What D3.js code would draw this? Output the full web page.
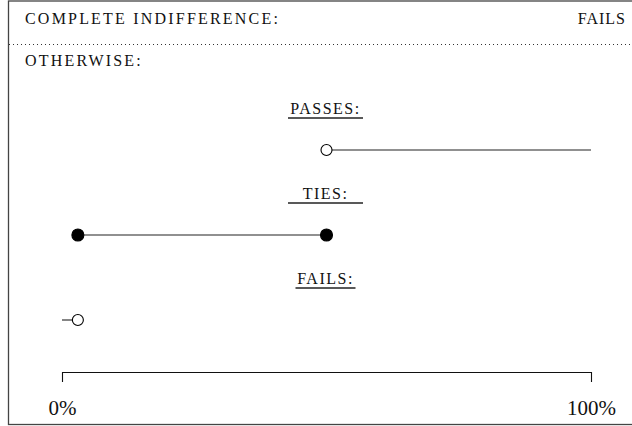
<!DOCTYPE html>
<html>
<head>
<meta charset="utf-8">
<script src="https://cdn.jsdelivr.net/npm/d3@7"></script>
<style>
  body { margin: 0; background: #fff; }
  svg { display: block; }
  text { font-family: "Liberation Serif", "Times New Roman", serif; fill: #111; }
  .sc { font-size: 16px; letter-spacing: 2.2px; }
</style>
</head>
<body>
<svg id="chart"></svg>
<script>
// chart data
const rowNames = ["PASSES:", "TIES:", "FAILS:"];
const rowStart = [0.5, 0.03, 0];
const rowEnd = [1, 0.5, 0.03];
const startMark = ["open", "filled", "none"];
const endMark = ["none", "filled", "open"];
const headerLabel = "COMPLETE INDIFFERENCE:";
const headerResult = "FAILS";
const otherwiseLabel = "OTHERWISE:";
const axisTicks = [0, 1];

const width = 632, height = 426;
const underlineWidth = { "PASSES:": 75, "TIES:": 75, "FAILS:": 60 };
const serif = "'Liberation Serif', 'Times New Roman', serif";

const svg = d3.select("#chart")
    .attr("width", width)
    .attr("height", height);

// frame (right edge runs off the picture)
svg.append("rect")
    .attr("x", 8.5)
    .attr("y", 1)
    .attr("width", 640)
    .attr("height", 423.5)
    .attr("fill", "none")
    .attr("stroke", "#444")
    .attr("stroke-width", 1.3);

svg.append("text")
    .attr("class", "sc")
    .attr("x", 25)
    .attr("y", 24)
    .text(headerLabel);

svg.append("text")
    .attr("class", "sc")
    .attr("x", 626)
    .attr("y", 24)
    .attr("text-anchor", "end")
    .style("letter-spacing", "1px")
    .text(headerResult);

svg.append("line")
    .attr("x1", 9).attr("x2", width)
    .attr("y1", 44.5).attr("y2", 44.5)
    .attr("stroke", "#333")
    .attr("stroke-width", 1)
    .attr("stroke-dasharray", "1,3");

svg.append("text")
    .attr("class", "sc")
    .attr("x", 25)
    .attr("y", 66)
    .text(otherwiseLabel);

const x = d3.scaleLinear().domain([0, 1]).range([62, 591]);
const y = d3.scalePoint().domain(rowNames).range([150, 320]);

const rows = rowNames.map(function(name, i) {
    return { name: name, start: rowStart[i], end: rowEnd[i], s: startMark[i], e: endMark[i] };
});

const g = svg.selectAll("g.row")
    .data(rows)
    .enter().append("g")
    .attr("class", "row");

g.append("text")
    .attr("class", "sc")
    .attr("x", x(0.5) - 1)
    .attr("y", function(d) { return y(d.name) - 36; })
    .attr("text-anchor", "middle")
    .style("letter-spacing", "1.5px")
    .text(function(d) { return d.name; });

g.append("line")
    .attr("x1", function(d) { return x(0.5) - 1 - underlineWidth[d.name] / 2; })
    .attr("x2", function(d) { return x(0.5) - 1 + underlineWidth[d.name] / 2; })
    .attr("y1", function(d) { return y(d.name) - 32; })
    .attr("y2", function(d) { return y(d.name) - 32; })
    .attr("stroke", "#222")
    .attr("stroke-width", 1.5);

g.append("line")
    .attr("x1", function(d) { return x(d.start); })
    .attr("x2", function(d) { return x(d.end); })
    .attr("y1", function(d) { return y(d.name); })
    .attr("y2", function(d) { return y(d.name); })
    .attr("stroke", "#222")
    .attr("stroke-width", 1.1);

function addMark(key, valKey) {
    g.filter(function(d) { return d[key] !== "none"; })
        .append("circle")
        .attr("cx", function(d) { return x(d[valKey]); })
        .attr("cy", function(d) { return y(d.name); })
        .attr("r", function(d) { return d[key] === "filled" ? 6 : 5.5; })
        .attr("fill", function(d) { return d[key] === "filled" ? "#000" : "#fff"; })
        .attr("stroke", "#000")
        .attr("stroke-width", 1.1);
}
addMark("s", "start");
addMark("e", "end");

const xAxis = d3.axisBottom(x)
    .tickValues(axisTicks)
    .tickSizeInner(0)
    .tickSizeOuter(10)
    .tickPadding(28)
    .tickFormat(d3.format(".0%"));

const axisG = svg.append("g")
    .attr("transform", "translate(0,372)")
    .call(xAxis)
    .attr("font-family", serif)
    .attr("font-size", 21);
axisG.select(".domain").attr("stroke", "#111").attr("stroke-width", 1.1);
axisG.selectAll(".tick text").attr("fill", "#111");
</script>
</body>
</html>
